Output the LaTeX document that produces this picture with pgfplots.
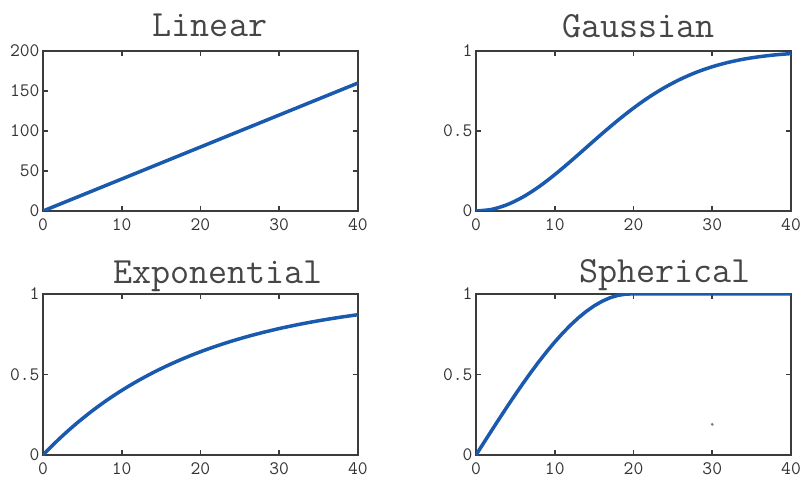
\documentclass[border=0pt]{standalone}
\usepackage{fontspec}
\usepackage{pgfplots}
\pgfplotsset{compat=1.18}
\definecolor{curve}{RGB}{25,90,175}
\definecolor{frame}{RGB}{60,60,60}
\definecolor{titlec}{RGB}{70,70,70}
\pgfplotsset{
  panel/.style={
    scale only axis, width=315pt, height=160pt, anchor=south west,
    xmin=0, xmax=40, xtick={0,10,20,30,40},
    axis line style={frame, line width=1.6pt},
    every tick/.style={frame, line width=1.6pt},
    major tick length=5pt, tick align=inside,
    /pgf/number format/assume math mode=true,
    ticklabel style={font=\fontsize{19}{20}\selectfont\ttfamily, text=black!80},
    xticklabel style={yshift=-4pt},
    title style={font=\fontsize{37}{40}\selectfont\ttfamily, text=titlec, anchor=base},
  },
  unit/.style={ymin=0, ymax=1, ytick={0,0.5,1}},
}
\pgfplotstableread{
x y
0 0
40 160
}\linear
\pgfplotstableread{
x y
0 0
2 0.0102
4 0.0404
6 0.0886
8 0.1520
10 0.2272
12 0.3100
14 0.3965
16 0.4830
18 0.5660
20 0.6433
22 0.7127
24 0.7733
26 0.8247
28 0.8674
30 0.9016
32 0.9285
34 0.9491
36 0.9645
38 0.9758
40 0.9838
}\gauss
\pgfplotstableread{
x y
0 0
2 0.0975
4 0.1854
6 0.2648
8 0.3365
10 0.4012
12 0.4595
14 0.5122
16 0.5598
18 0.6027
20 0.6414
22 0.6764
24 0.7079
26 0.7364
28 0.7621
30 0.7853
32 0.8062
34 0.8251
36 0.8421
38 0.8575
40 0.8714
}\expo
\pgfplotstableread{
x y
0 0
1 0.0769
2 0.1533
3 0.2290
4 0.3034
5 0.3762
6 0.4470
7 0.5153
8 0.5809
9 0.6431
10 0.7018
11 0.7564
12 0.8066
13 0.8519
14 0.8919
15 0.9263
16 0.9546
17 0.9764
18 0.9914
19 0.9990
19.5 1
40 1
}\spher
\begin{document}
\begin{tikzpicture}
\path[use as bounding box] (0,0) rectangle (801pt,477pt);
\begin{axis}[panel, at={(43pt,266pt)}, ymin=0, ymax=200, ytick={0,50,100,150,200},
  title={Linear}, title style={at={(rel axis cs:0.53,1)}, yshift=8pt}]
\addplot[curve, line width=3.5pt] table {\linear};
\end{axis}
\begin{axis}[panel, unit, at={(476pt,266pt)},
  title={Gaussian}, title style={at={(rel axis cs:0.515,1)}, yshift=7pt}]
\addplot[curve, line width=3.5pt, smooth] table {\gauss};
\end{axis}
\begin{axis}[panel, unit, at={(43pt,22pt)}, height=161pt,
  title={Exponential}, title style={at={(rel axis cs:0.555,1)}, yshift=4pt}]
\addplot[curve, line width=3.5pt, smooth] table {\expo};
\end{axis}
\begin{axis}[panel, unit, at={(476pt,22pt)}, height=161pt,
  title={Spherical}, title style={at={(rel axis cs:0.6,1)}, yshift=5pt}]
\addplot[curve, line width=3.5pt] table {\spher};
\addplot[only marks, mark=*, mark size=1.2pt, gray] coordinates {(30,0.19)};
\end{axis}
\end{tikzpicture}
\end{document}
